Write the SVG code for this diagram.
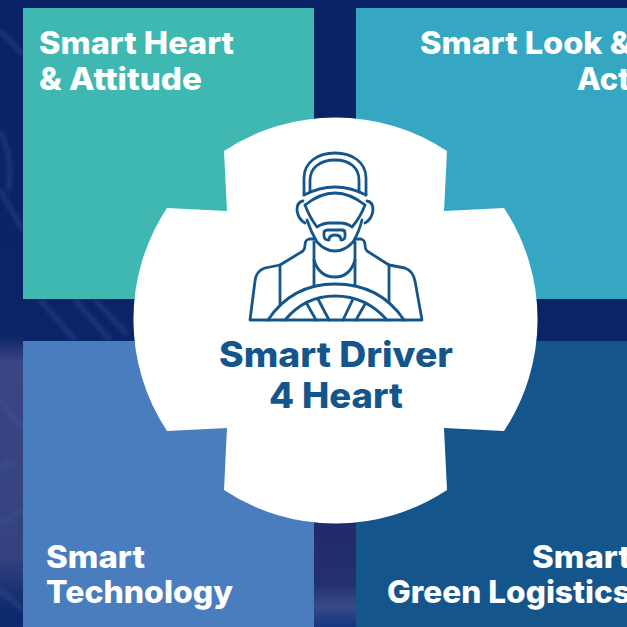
<svg xmlns="http://www.w3.org/2000/svg" width="627" height="627" viewBox="0 0 627 627">
<defs>
<linearGradient id="g1" x1="0" y1="0" x2="0" y2="1"><stop offset="0" stop-color="#0a2266"/><stop offset="0.5" stop-color="#0a2468"/><stop offset="1" stop-color="#0e2a6e"/></linearGradient>
<linearGradient id="g2" x1="0" y1="0" x2="0" y2="1"><stop offset="0" stop-color="#3a4584" stop-opacity="0"/><stop offset="0.1" stop-color="#3a4584"/><stop offset="0.8" stop-color="#34437f"/><stop offset="1" stop-color="#34437f" stop-opacity="0"/></linearGradient>
<linearGradient id="g3" x1="0" y1="0" x2="0" y2="1"><stop offset="0" stop-color="#222a6c"/><stop offset="0.6" stop-color="#23306f"/><stop offset="0.8" stop-color="#3a4a86"/><stop offset="1" stop-color="#163680"/></linearGradient>
<filter id="b"><feGaussianBlur stdDeviation="2.2"/></filter>
</defs>
<style>
.t{font-family:"Inter","Liberation Sans",sans-serif;font-weight:800;font-size:31px;fill:#fff}
.c{font-family:"Inter","Liberation Sans",sans-serif;font-weight:800;font-size:35px;fill:#14568c;text-anchor:middle}
.i{fill:none;stroke:#14568c;stroke-width:2.8;stroke-linecap:round;stroke-linejoin:round}
.s{fill:none;stroke:#3f5f9c;stroke-width:4;opacity:.4;filter:url(#b)}
</style>
<rect width="627" height="627" fill="url(#g1)"/>
<rect x="0" y="335" width="23" height="275" fill="url(#g2)"/>
<rect x="314" y="520" width="42" height="107" fill="url(#g3)"/>
<path class="s" d="M0 30L23 55M0 190L23 230M0 130Q14 160 8 190M40 300L75 340M75 300L110 340M95 300L128 335M0 400L23 430M0 470L14 460M0 525L23 510M0 590L23 610"/>
<g id="box-heart"><rect x="23" y="8" width="291" height="291" fill="#3eb8b0"/><text class="t" x="39" y="54" textLength="195" lengthAdjust="spacingAndGlyphs">Smart Heart</text><text class="t" x="39" y="90" textLength="163" lengthAdjust="spacingAndGlyphs">&amp; Attitude</text></g>
<g id="box-look"><rect x="356" y="8" width="271" height="291" fill="#36a7c3"/><text class="t" x="420" y="54" textLength="212" lengthAdjust="spacingAndGlyphs">Smart Look &amp;</text><text class="t" x="577" y="90">Act</text></g>
<g id="box-tech"><rect x="23" y="341" width="291" height="286" fill="#4a7dbd"/><text class="t" x="46" y="568" textLength="99" lengthAdjust="spacingAndGlyphs">Smart</text><text class="t" x="46" y="603" textLength="187" lengthAdjust="spacingAndGlyphs">Technology</text></g>
<g id="box-green"><rect x="356" y="341" width="271" height="286" fill="#14568c"/><text class="t" x="532" y="568" textLength="99" lengthAdjust="spacingAndGlyphs">Smart</text><text class="t" x="387" y="603" textLength="244" lengthAdjust="spacingAndGlyphs">Green Logistics</text></g>
<g id="center">
<path fill="#fff" d="M224 151A202 202 0 0 1 447 151L444 211L504 208A202 202 0 0 1 504 431L444 428L447 490A202 202 0 0 1 224 490L227 428L167 431A202 202 0 0 1 167 208L227 211Z"/>
<g class="i">
<path d="M304 195V178C304 162 318 153 335 153C352 153 366 162 366 178V195"/>
<path d="M310 192V180C310 168 320 160 335 160C350 160 359 168 359 180V192"/>
<path d="M304 195Q335 179 366 195"/>
<path d="M305 205Q335 181 365 205"/>
<path d="M305 205Q310 218 317 227Q323 223 330 223H340Q347 223 352 227Q360 218 365 205"/>
<path d="M303 201Q297 202 297 210Q298 219 305 223"/>
<path d="M367 201Q373 202 373 210Q372 219 365 223"/>
<path d="M307 220Q311 232 317 242Q325 251 335 251Q345 251 353 242Q359 232 362 220"/>
<path d="M324 236V232Q325 230 328 230H342Q345 230 345 233V236Q345 240 341 240Q341 235 335 235Q329 235 329 240Q324 240 324 236Z"/>
<path d="M314 242V285"/><path d="M355 242V285"/>
<path d="M314 260Q319 277 335 277Q350 277 355 260"/>
<path d="M314 239H309Q305 240 305 245Q305 249 303 251L280 265V305"/>
<path d="M355 239H361Q365 240 365 245Q365 249 367 251L389 265V303"/>
<path d="M280 265L265 268Q256 271 255 281L250 320H422L415 281Q413 271 405 268L389 265"/>
<path d="M268 320Q292 284 335 284Q380 284 404 320"/>
<path d="M285 320Q305 296 335 296Q366 296 387 320"/>
<path d="M307 304L316 320"/><path d="M318 299L329 320"/><path d="M353 299L343 320"/><path d="M365 304L356 320"/>
</g>
<text class="c" x="336" y="367" textLength="234" lengthAdjust="spacingAndGlyphs">Smart Driver</text>
<text class="c" x="336" y="408" textLength="134" lengthAdjust="spacingAndGlyphs">4 Heart</text>
</g>
</svg>
